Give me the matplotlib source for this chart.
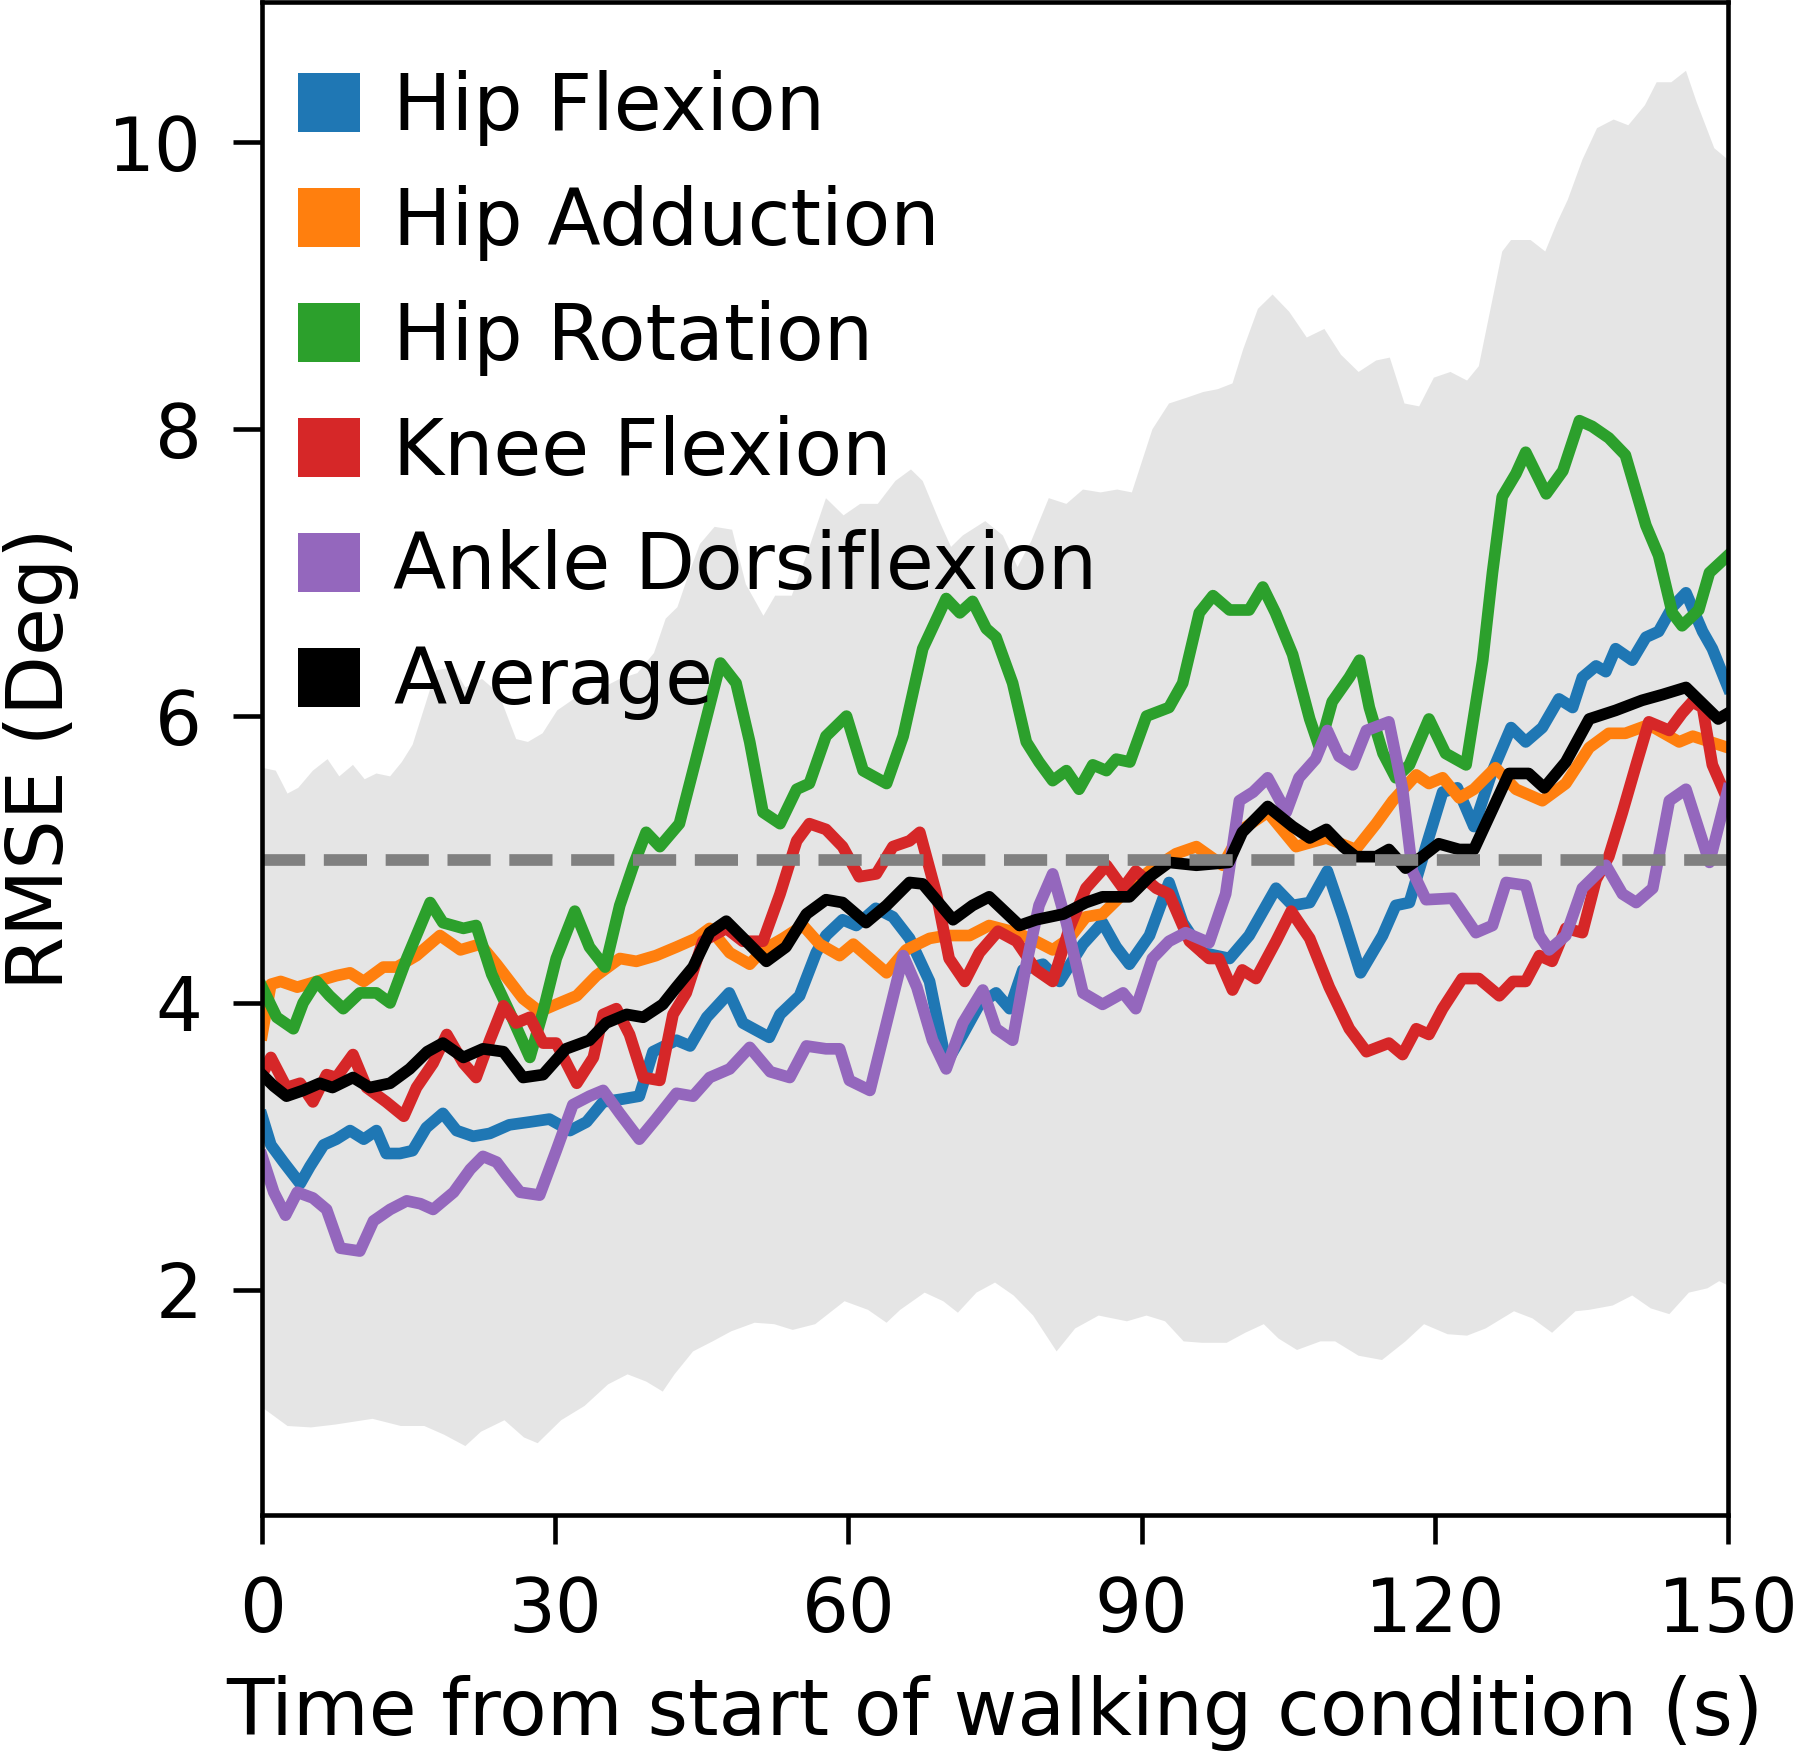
import matplotlib
matplotlib.use("Agg")
import matplotlib.pyplot as plt
from matplotlib.patches import Patch

# ========================
# DATA  (time in s, RMSE in deg)
# ========================
hip_flexion = [
    (0, 3.21), (0.9, 3.01), (2.2, 2.89), (3.9, 2.74), (4.9, 2.86), (6.3, 3.01), (7.6, 3.05),
    (9.0, 3.11), (10.4, 3.05), (11.7, 3.11), (12.7, 2.95), (14.1, 2.95), (15.4, 2.97),
    (16.8, 3.13), (18.5, 3.23), (19.9, 3.11), (21.6, 3.07), (23.3, 3.09), (25.3, 3.15),
    (27.4, 3.17), (29.4, 3.19), (31.5, 3.11), (33.2, 3.17), (34.9, 3.31), (36.9, 3.33),
    (38.6, 3.35), (40.0, 3.66), (42.4, 3.74), (43.8, 3.70), (45.5, 3.90), (47.8, 4.07),
    (49.2, 3.86), (51.9, 3.76), (53.0, 3.92), (55.0, 4.05), (56.7, 4.35), (57.7, 4.47),
    (59.4, 4.58), (60.8, 4.54), (62.8, 4.66), (64.55, 4.60), (66.25, 4.45), (68.3, 4.15),
    (70.0, 3.58), (71.7, 3.78), (73.4, 3.99), (75.1, 4.07), (76.5, 3.96), (77.85, 4.23),
    (79.9, 4.27), (81.6, 4.15), (84.0, 4.41), (86.0, 4.56), (87.4, 4.39), (88.75, 4.27),
    (90.8, 4.47), (92.8, 4.84), (94.2, 4.56), (96.25, 4.35), (99.0, 4.31), (101.0, 4.47),
    (103.75, 4.80), (105.45, 4.68), (107.2, 4.70), (109.0, 4.92), (110.6, 4.60),
    (112.4, 4.21), (114.65, 4.47), (116.0, 4.68), (117.4, 4.70), (119.1, 5.09),
    (120.8, 5.47), (122.3, 5.50), (124.0, 5.23), (125.8, 5.60), (127.8, 5.92), (129.3, 5.82),
    (131.0, 5.92), (132.7, 6.12), (134.1, 6.06), (135.1, 6.27), (136.5, 6.35), (137.5, 6.31),
    (138.5, 6.47), (140.2, 6.39), (141.6, 6.55), (142.9, 6.59), (144.3, 6.76), (145.7, 6.86),
    (147.4, 6.59), (148.4, 6.47), (150, 6.20),
]

hip_adduction = [
    (0, 3.78), (0.9, 4.13), (1.9, 4.15), (3.6, 4.11), (5.6, 4.15), (7.6, 4.19), (9.0, 4.21),
    (10.4, 4.15), (12.4, 4.25), (13.8, 4.25), (15.8, 4.33), (18.2, 4.47), (20.3, 4.37),
    (22.3, 4.41), (24.0, 4.27), (26.7, 4.03), (28.4, 3.94), (30.1, 3.99), (32.2, 4.05),
    (34.2, 4.19), (36.6, 4.31), (38.3, 4.29), (40.3, 4.33), (42.4, 4.39), (44.4, 4.45),
    (45.8, 4.52), (47.85, 4.35), (49.9, 4.27), (51.25, 4.37), (53.3, 4.45), (55.35, 4.54),
    (57.05, 4.41), (59.1, 4.33), (60.5, 4.41), (62.2, 4.31), (63.9, 4.21), (65.9, 4.37),
    (68.3, 4.45), (70.0, 4.47), (72.4, 4.47), (74.4, 4.54), (77.2, 4.49), (79.2, 4.43),
    (80.9, 4.37), (82.6, 4.45), (84.3, 4.60), (86.0, 4.62), (88.4, 4.78), (90.8, 4.92),
    (93.5, 5.04), (95.6, 5.09), (98.3, 4.96), (100.3, 5.21), (102.9, 5.33), (105.8, 5.09),
    (108.9, 5.15), (111.9, 5.07), (114.0, 5.25), (115.7, 5.41), (118.1, 5.59), (119.4, 5.53),
    (120.8, 5.57), (122.5, 5.43), (124.0, 5.49), (126.2, 5.64), (128.3, 5.49), (131.0, 5.41),
    (133.4, 5.53), (135.8, 5.78), (137.8, 5.88), (139.5, 5.88), (141.9, 5.94), (145.0, 5.82),
    (146.4, 5.86), (150, 5.78),
]

hip_rotation = [
    (0, 4.11), (1.5, 3.90), (3.2, 3.82), (4.2, 4.00), (5.6, 4.15), (6.9, 4.05), (8.3, 3.96),
    (10.0, 4.07), (11.7, 4.07), (13.1, 4.00), (14.8, 4.31), (17.2, 4.70), (18.5, 4.56),
    (20.6, 4.52), (21.9, 4.54), (23.5, 4.20), (25.3, 3.94), (27.4, 3.62), (28.75, 3.94),
    (30.1, 4.31), (32.0, 4.64), (33.5, 4.39), (35.1, 4.25), (36.6, 4.68), (38.0, 4.96),
    (39.3, 5.19), (40.7, 5.09), (42.7, 5.25), (44.4, 5.70), (46.9, 6.37), (48.5, 6.23),
    (49.9, 5.82), (51.25, 5.33), (53.0, 5.25), (54.7, 5.49), (56.0, 5.53), (57.7, 5.86),
    (59.8, 6.00), (61.5, 5.62), (63.9, 5.53), (65.6, 5.86), (67.6, 6.47), (70.0, 6.82),
    (71.4, 6.72), (72.7, 6.80), (74.1, 6.61), (75.1, 6.55), (76.8, 6.23), (78.2, 5.82),
    (79.5, 5.68), (80.9, 5.55), (82.3, 5.62), (83.6, 5.49), (85.0, 5.66), (86.4, 5.62),
    (87.4, 5.70), (88.8, 5.68), (90.5, 6.00), (92.8, 6.06), (94.2, 6.23), (95.9, 6.72),
    (97.3, 6.84), (99.0, 6.74), (101.0, 6.74), (102.4, 6.90), (103.7, 6.72), (105.45, 6.43),
    (107.2, 5.98), (108.2, 5.78), (109.5, 6.10), (111.25, 6.27), (112.3, 6.39), (113.3, 6.06),
    (114.7, 5.74), (116.0, 5.57), (117.4, 5.66), (119.4, 5.98), (121.1, 5.74), (123.2, 5.66),
    (124.9, 6.39), (125.9, 7.00), (126.9, 7.53), (128.3, 7.69), (129.3, 7.84), (131.4, 7.55),
    (133.1, 7.71), (134.8, 8.06), (136.1, 8.02), (137.8, 7.94), (139.5, 7.82), (141.6, 7.33),
    (142.9, 7.12), (144.3, 6.72), (145.3, 6.63), (147.0, 6.74), (148.1, 7.00), (150, 7.12),
]

knee_flexion = [
    (0, 3.50), (0.9, 3.62), (2.5, 3.41), (3.9, 3.44), (5.2, 3.31), (6.6, 3.50), (7.6, 3.48),
    (9.3, 3.64), (10.7, 3.41), (12.7, 3.31), (14.5, 3.21), (15.8, 3.41), (17.5, 3.58),
    (18.9, 3.78), (20.6, 3.58), (21.9, 3.48), (23.3, 3.74), (24.7, 3.98), (26.0, 3.86),
    (27.4, 3.90), (28.75, 3.72), (30.1, 3.72), (32.2, 3.44), (33.9, 3.62), (34.9, 3.92),
    (36.25, 3.96), (37.6, 3.78), (39.0, 3.48), (40.7, 3.46), (42.05, 3.92), (43.4, 4.07),
    (45.1, 4.43), (47.5, 4.52), (49.2, 4.43), (51.25, 4.43), (53.0, 4.76), (54.7, 5.13),
    (56.0, 5.25), (57.7, 5.21), (59.4, 5.09), (61.1, 4.88), (62.85, 4.90), (64.55, 5.09),
    (66.25, 5.13), (67.3, 5.19), (69.0, 4.76), (70.3, 4.31), (71.9, 4.15), (73.4, 4.35),
    (75.3, 4.50), (77.2, 4.43), (79.2, 4.23), (80.9, 4.15), (82.6, 4.52), (84.3, 4.80),
    (86.4, 4.96), (88.1, 4.80), (89.4, 4.92), (91.5, 4.80), (92.8, 4.76), (94.9, 4.43),
    (96.9, 4.31), (97.9, 4.31), (99.3, 4.09), (100.3, 4.23), (101.7, 4.17), (103.75, 4.43),
    (105.3, 4.64), (107.2, 4.45), (109.2, 4.11), (111.25, 3.82), (113.0, 3.66), (115.3, 3.72),
    (116.7, 3.64), (118.1, 3.82), (119.4, 3.78), (120.8, 3.96), (122.8, 4.17), (124.5, 4.17),
    (126.6, 4.05), (128.0, 4.15), (129.3, 4.15), (130.7, 4.33), (132.0, 4.29), (133.4, 4.52),
    (135.1, 4.49), (136.5, 4.86), (137.8, 5.02), (139.2, 5.33), (140.6, 5.66), (141.9, 5.96),
    (144.0, 5.90), (145.3, 6.02), (146.35, 6.10), (147.4, 6.06), (148.4, 5.66), (150, 5.41),
]

ankle_dorsiflexion = [
    (0, 2.93), (1.2, 2.68), (2.4, 2.52), (3.6, 2.68), (5.2, 2.64), (6.6, 2.56), (8.0, 2.29),
    (10.0, 2.27), (11.4, 2.48), (13.1, 2.56), (14.8, 2.62), (16.2, 2.60), (17.5, 2.56),
    (19.6, 2.68), (21.3, 2.84), (22.6, 2.93), (24.0, 2.89), (25.0, 2.80), (26.4, 2.68),
    (28.4, 2.66), (30.1, 2.97), (31.8, 3.29), (33.5, 3.35), (34.9, 3.39), (36.6, 3.23),
    (38.6, 3.05), (40.3, 3.19), (42.4, 3.37), (44.1, 3.35), (45.8, 3.48), (47.85, 3.54),
    (49.9, 3.69), (52.0, 3.52), (54.0, 3.48), (55.7, 3.70), (57.7, 3.68), (59.1, 3.68),
    (60.1, 3.46), (62.2, 3.39), (63.9, 3.86), (65.6, 4.33), (67.0, 4.11), (68.6, 3.74),
    (70.0, 3.54), (71.7, 3.86), (73.75, 4.09), (75.1, 3.82), (76.8, 3.74), (78.2, 4.27),
    (79.5, 4.68), (80.9, 4.90), (82.3, 4.56), (84.0, 4.07), (86.0, 3.99), (88.1, 4.07),
    (89.4, 3.96), (91.1, 4.31), (92.8, 4.43), (94.5, 4.49), (96.9, 4.42), (98.6, 4.76),
    (100.0, 5.41), (101.4, 5.47), (102.9, 5.57), (104.8, 5.33), (106.1, 5.57), (107.8, 5.70),
    (109.0, 5.90), (110.2, 5.72), (111.6, 5.66), (113.0, 5.90), (115.3, 5.96), (116.7, 5.49),
    (117.7, 4.92), (119.1, 4.72), (121.8, 4.73), (124.2, 4.49), (125.9, 4.54), (127.3, 4.84),
    (129.3, 4.82), (130.7, 4.47), (131.7, 4.37), (133.4, 4.47), (135.1, 4.80), (137.5, 4.96),
    (139.2, 4.76), (140.6, 4.70), (142.3, 4.80), (144.0, 5.41), (145.7, 5.49), (148.1, 4.98),
    (150, 5.49),
]

average = [
    (0, 3.50), (1.2, 3.42), (2.5, 3.35), (4.2, 3.39), (5.9, 3.44), (7.2, 3.41), (9.3, 3.48),
    (11.0, 3.41), (13.1, 3.44), (15.1, 3.54), (16.9, 3.66), (18.5, 3.72), (20.6, 3.62),
    (22.6, 3.68), (24.7, 3.66), (26.7, 3.48), (28.75, 3.50), (31.1, 3.68), (33.5, 3.74),
    (35.2, 3.86), (37.3, 3.92), (39.0, 3.90), (41.0, 3.99), (42.4, 4.11), (44.1, 4.25),
    (45.8, 4.49), (47.5, 4.57), (49.55, 4.43), (51.6, 4.29), (53.6, 4.39), (55.7, 4.62),
    (57.7, 4.72), (59.4, 4.70), (61.8, 4.56), (63.9, 4.68), (66.25, 4.84), (67.6, 4.83),
    (70.7, 4.58), (72.7, 4.68), (74.4, 4.74), (77.5, 4.54), (79.2, 4.58), (82.0, 4.62),
    (84.3, 4.70), (86.0, 4.74), (88.75, 4.74), (90.8, 4.88), (92.8, 4.98), (95.6, 4.96),
    (98.9, 4.98), (100.3, 5.19), (102.9, 5.37), (105.45, 5.23), (107.2, 5.15), (108.9, 5.21),
    (110.6, 5.09), (111.9, 5.02), (114.0, 5.02), (115.3, 5.07), (117.0, 4.94), (118.7, 5.02),
    (120.4, 5.11), (122.5, 5.07), (124.0, 5.07), (127.6, 5.60), (129.6, 5.60), (131.2, 5.50),
    (133.4, 5.68), (135.8, 5.98), (138.5, 6.04), (141.2, 6.11), (143.3, 6.15), (145.7, 6.20),
    (149.0, 5.98), (150, 6.02),
]

# shaded band (upper / lower edge)
band_upper = [
    (0, 5.64), (1.4, 5.62), (2.6, 5.46), (3.7, 5.50), (5.2, 5.62), (6.7, 5.70), (7.9, 5.58),
    (9.3, 5.66), (10.5, 5.56), (11.7, 5.60), (13.1, 5.58), (14.3, 5.68), (15.4, 5.80),
    (16.7, 6.08), (17.8, 6.32), (19.6, 6.34), (20.8, 6.20), (22.5, 6.26), (24.2, 6.16),
    (26.0, 5.84), (27.2, 5.82), (28.7, 5.88), (30.2, 6.04), (31.9, 6.12), (33.1, 6.08),
    (34.9, 6.20), (36.6, 6.26), (38.4, 6.30), (40.1, 6.44), (41.3, 6.68), (42.5, 6.76),
    (43.7, 7.00), (44.8, 7.20), (46.3, 7.32), (48.1, 7.30), (49.5, 6.92), (51.3, 6.70),
    (52.5, 6.84), (54.2, 6.84), (55.9, 7.16), (57.7, 7.52), (59.5, 7.40), (61.2, 7.48),
    (63.0, 7.48), (64.8, 7.64), (66.4, 7.72), (67.6, 7.64), (69.3, 7.36), (70.5, 7.18),
    (71.7, 7.26), (74.0, 7.36), (75.8, 7.26), (77.3, 7.04), (78.7, 7.22), (80.5, 7.52),
    (82.3, 7.48), (84.0, 7.58), (85.8, 7.56), (87.5, 7.58), (89.0, 7.56), (91.1, 8.00),
    (92.8, 8.18), (94.6, 8.22), (96.3, 8.26), (97.8, 8.28), (99.3, 8.32), (100.4, 8.56),
    (101.9, 8.84), (103.4, 8.94), (105.1, 8.82), (106.9, 8.64), (108.7, 8.70), (110.4, 8.52),
    (112.2, 8.40), (114.0, 8.48), (115.4, 8.50), (116.9, 8.18), (118.4, 8.16), (119.9, 8.36),
    (121.6, 8.40), (123.3, 8.34), (124.5, 8.44), (125.7, 8.84), (126.9, 9.24), (127.8, 9.32),
    (129.8, 9.32), (131.3, 9.24), (132.5, 9.44), (133.6, 9.60), (135.1, 9.88), (136.6, 10.10),
    (138.3, 10.16), (139.8, 10.12), (141.5, 10.26), (142.7, 10.42), (144.2, 10.42),
    (145.7, 10.50), (146.8, 10.28), (148.6, 9.96), (150, 9.88),
]

band_lower = [
    (0, 1.18), (2.6, 1.05), (5.0, 1.04), (7.5, 1.06), (11.3, 1.10), (14.2, 1.05), (16.6, 1.05),
    (18.6, 0.99), (20.8, 0.91), (22.4, 1.01), (24.8, 1.09), (26.8, 0.97), (28.2, 0.93),
    (30.6, 1.09), (33.0, 1.19), (35.4, 1.34), (37.4, 1.41), (39.3, 1.36), (41.0, 1.29),
    (42.2, 1.41), (44.1, 1.57), (46.1, 1.64), (48.0, 1.71), (50.4, 1.77), (52.4, 1.76),
    (54.3, 1.72), (56.6, 1.76), (59.6, 1.92), (62.0, 1.86), (63.9, 1.77), (65.3, 1.86),
    (67.8, 1.98), (69.7, 1.92), (71.2, 1.84), (73.1, 1.98), (75.0, 2.05), (76.9, 1.96),
    (78.9, 1.82), (81.3, 1.57), (83.2, 1.73), (85.6, 1.82), (88.5, 1.78), (90.5, 1.82),
    (92.4, 1.78), (94.3, 1.64), (96.2, 1.63), (98.7, 1.63), (100.6, 1.70), (102.5, 1.76),
    (104.0, 1.66), (105.9, 1.58), (108.3, 1.64), (109.8, 1.64), (112.2, 1.54), (114.6, 1.51),
    (117.0, 1.64), (118.9, 1.76), (121.3, 1.69), (123.3, 1.68), (125.2, 1.73), (128.1, 1.85),
    (130.0, 1.80), (132.0, 1.70), (134.4, 1.85), (135.8, 1.86), (138.2, 1.89), (140.2, 1.96),
    (142.1, 1.87), (144.0, 1.83), (146.0, 1.98), (147.9, 2.01), (149.1, 2.06), (150, 2.03),
]

joints = [
    ("Hip Flexion", hip_flexion, "#1f77b4"),
    ("Hip Adduction", hip_adduction, "#ff7f0e"),
    ("Hip Rotation", hip_rotation, "#2ca02c"),
    ("Knee Flexion", knee_flexion, "#d62728"),
    ("Ankle Dorsiflexion", ankle_dorsiflexion, "#9467bd"),
    ("Average", average, "black"),
]

THRESHOLD = 5.0

# ========================
# STYLE
# ========================
plt.rcParams['font.family'] = 'DejaVu Sans'
plt.rcParams['font.size'] = 18.7

fig = plt.figure(figsize=(6, 5.85), dpi=300)
ax = fig.add_axes([0.1456, 0.1368, 0.8144, 0.8621])

# ===== BAND =====
ut, uv = zip(*band_upper)
lt, lv = zip(*band_lower)
ax.fill(list(ut) + list(lt[::-1]), list(uv) + list(lv[::-1]),
        color="gray", alpha=0.2, linewidth=0)

# ===== LINES =====
for name, series, col in joints:
    t, v = zip(*series)
    ax.plot(t, v, color=col, lw=2.8, solid_joinstyle="round", label=name)

ax.axhline(THRESHOLD, color="gray", lw=2.8, linestyle="--")

# ===== AXES =====
ax.set_xlim(0, 150)
ax.set_ylim(0.43, 10.98)
ax.set_xticks([0, 30, 60, 90, 120, 150])
ax.set_yticks([2, 4, 6, 8, 10])
ax.tick_params(length=6.9, width=1.1, pad=7.5, labelsize=17.7)
for s in ax.spines.values():
    s.set_linewidth(1.1)

ax.set_xlabel("Time from start of walking condition (s)", labelpad=6.5)
ax.set_ylabel("RMSE (Deg)", labelpad=7)

handles = [Patch(facecolor=c, edgecolor="none") for _, _, c in joints]
ax.legend(handles, [n for n, _, _ in joints], loc="upper left", frameon=False,
          bbox_to_anchor=(-0.002, 0.981),
          handlelength=0.8, handleheight=0.8, handletextpad=0.42,
          labelspacing=0.50, borderaxespad=0.1, borderpad=0.4)

fig.savefig("out.png", dpi=300)
plt.close(fig)
